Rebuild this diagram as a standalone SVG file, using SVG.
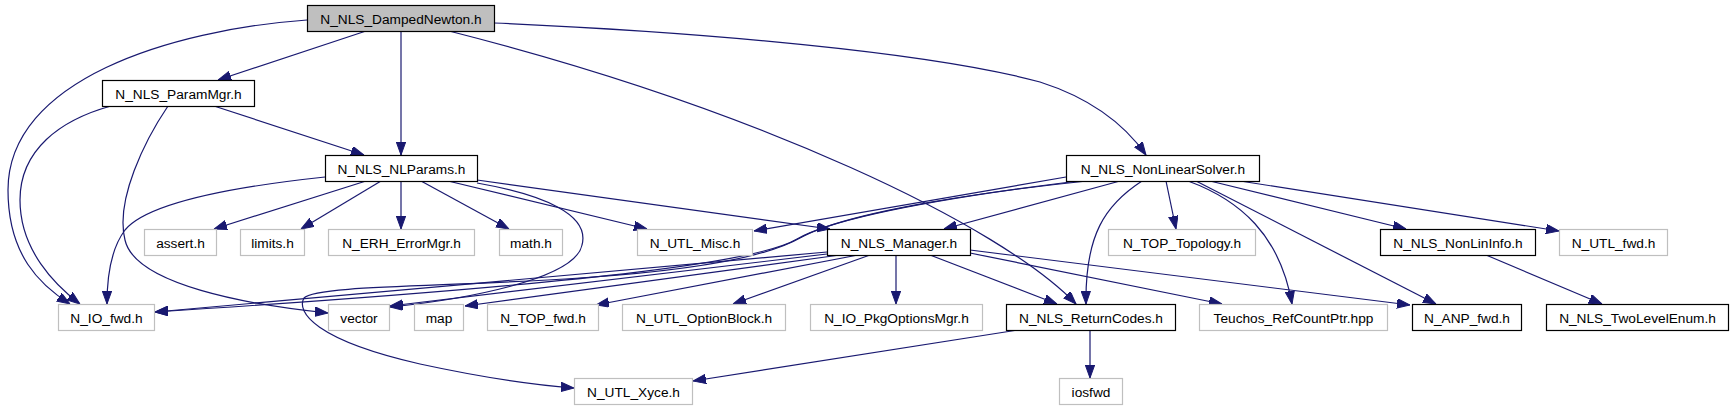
<svg xmlns="http://www.w3.org/2000/svg" width="1735" height="411" viewBox="0 0 1735 411">
<defs>
<style>
.n rect{fill:#fff;stroke:#000;stroke-width:1.2}
.g rect{fill:#fff;stroke:#bfbfbf;stroke-width:1.2}
.root rect{fill:#bfbfbf;stroke:#000;stroke-width:1.2}
text{font-family:"Liberation Sans",Arial,sans-serif;font-size:13.7px;text-anchor:middle;fill:#000}
#edges path{fill:none;stroke:#191970;stroke-width:1.2;marker-end:url(#ah)}
</style>
<marker id="ah" markerUnits="userSpaceOnUse" markerWidth="13" markerHeight="10" refX="13" refY="4.7" orient="auto">
<path d="M0,0 L13,4.7 L0,9.4 z" fill="#191970" stroke="#191970" stroke-width="1"/>
</marker>
</defs>
<rect width="1735" height="411" fill="#fff"/>
<g id="edges">
<path d="M307,20 C170,30 8,80 8,190 C8,255 40,285 70,304"/>
<path d="M366,31 L218,80"/>
<path d="M401,31 L401,155"/>
<path d="M449,31 C760,110 1000,225 1076,304"/>
<path d="M494,23 C700,32 930,52 1040,82 C1090,98 1125,125 1146,155"/>
<path d="M111,106 C60,120 20,150 20,200 C20,250 55,285 80,304"/>
<path d="M168,106 C145,140 115,200 125,240 C135,285 250,305 328,313"/>
<path d="M214,106 L364,155"/>
<path d="M325,177 C250,185 150,200 125,230 C110,250 107,280 107,304"/>
<path d="M366,181 L214,229"/>
<path d="M381,181 L301,229"/>
<path d="M401,181 L401,229"/>
<path d="M421,181 L509,229"/>
<path d="M448,181 L647,229"/>
<path d="M477,180 L830,229"/>
<path d="M477,183 C545,195 590,215 582,245 C575,280 460,300 390,307"/>
<path d="M1066,177 L754,231"/>
<path d="M1087,181 C1000,190 850,210 800,238 C770,255 700,270 580,278 C450,287 315,285 304,298 C296,312 315,340 420,364 C480,377 535,385 574,388"/>
<path d="M1078,181 C990,192 845,212 797,239 C762,260 620,282 155,312"/>
<path d="M1120,181 L944,229"/>
<path d="M1142,181 C1105,205 1085,235 1086,304"/>
<path d="M1166,181 L1176,229"/>
<path d="M1188,181 C1240,200 1280,235 1292,304"/>
<path d="M1196,181 L1436,304"/>
<path d="M1210,181 L1406,229"/>
<path d="M1240,181 L1559,231"/>
<path d="M827,252 L155,312"/>
<path d="M827,254 L390,306"/>
<path d="M840,255 L465,306"/>
<path d="M858,255 L596,305"/>
<path d="M870,255 L733,304"/>
<path d="M896,255 L896,304"/>
<path d="M930,255 L1057,304"/>
<path d="M970,253 L1222,304"/>
<path d="M970,250 L1410,305"/>
<path d="M1486,255 L1602,304"/>
<path d="M1090,330 L1090,378"/>
<path d="M1018,330 L693,381"/>
</g>
<g id="n_dampednewton" class="root"><rect x="307.5" y="5.5" width="187" height="26"/><text x="401" y="23.5">N_NLS_DampedNewton.h</text></g>
<g id="n_parammgr" class="n"><rect x="102.5" y="80.5" width="152" height="26"/><text x="178.5" y="98.5">N_NLS_ParamMgr.h</text></g>
<g id="n_nlparams" class="n"><rect x="325.5" y="155.5" width="152" height="26"/><text x="401.5" y="173.5">N_NLS_NLParams.h</text></g>
<g id="n_nonlinearsolver" class="n"><rect x="1066.5" y="155.5" width="193" height="26"/><text x="1163" y="173.5">N_NLS_NonLinearSolver.h</text></g>
<g id="n_assert" class="g"><rect x="144.5" y="229.5" width="72" height="26"/><text x="180.5" y="247.5">assert.h</text></g>
<g id="n_limits" class="g"><rect x="240.5" y="229.5" width="64" height="26"/><text x="272.5" y="247.5">limits.h</text></g>
<g id="n_erh" class="g"><rect x="328.5" y="229.5" width="146" height="26"/><text x="401.5" y="247.5">N_ERH_ErrorMgr.h</text></g>
<g id="n_math" class="g"><rect x="499.5" y="229.5" width="63" height="26"/><text x="531" y="247.5">math.h</text></g>
<g id="n_utlmisc" class="g"><rect x="637.5" y="229.5" width="115" height="26"/><text x="695" y="247.5">N_UTL_Misc.h</text></g>
<g id="n_manager" class="n"><rect x="827.5" y="229.5" width="143" height="26"/><text x="899" y="247.5">N_NLS_Manager.h</text></g>
<g id="n_topology" class="g"><rect x="1108.5" y="229.5" width="147" height="26"/><text x="1182" y="247.5">N_TOP_Topology.h</text></g>
<g id="n_nonlininfo" class="n"><rect x="1380.5" y="229.5" width="155" height="26"/><text x="1458" y="247.5">N_NLS_NonLinInfo.h</text></g>
<g id="n_utlfwd" class="g"><rect x="1559.5" y="229.5" width="108" height="26"/><text x="1613.5" y="247.5">N_UTL_fwd.h</text></g>
<g id="n_iofwd" class="g"><rect x="58.5" y="304.5" width="96" height="26"/><text x="106.5" y="322.5">N_IO_fwd.h</text></g>
<g id="n_vector" class="g"><rect x="328.5" y="304.5" width="61" height="26"/><text x="359" y="322.5">vector</text></g>
<g id="n_map" class="g"><rect x="414.5" y="304.5" width="49" height="26"/><text x="439" y="322.5">map</text></g>
<g id="n_topfwd" class="g"><rect x="487.5" y="304.5" width="111" height="26"/><text x="543" y="322.5">N_TOP_fwd.h</text></g>
<g id="n_optionblock" class="g"><rect x="622.5" y="304.5" width="163" height="26"/><text x="704" y="322.5">N_UTL_OptionBlock.h</text></g>
<g id="n_pkgoptionsmgr" class="g"><rect x="810.5" y="304.5" width="172" height="26"/><text x="896.5" y="322.5">N_IO_PkgOptionsMgr.h</text></g>
<g id="n_returncodes" class="n"><rect x="1006.5" y="304.5" width="169" height="26"/><text x="1091" y="322.5">N_NLS_ReturnCodes.h</text></g>
<g id="n_teuchos" class="g"><rect x="1199.5" y="304.5" width="188" height="26"/><text x="1293.5" y="322.5">Teuchos_RefCountPtr.hpp</text></g>
<g id="n_anpfwd" class="n"><rect x="1412.5" y="304.5" width="109" height="26"/><text x="1467" y="322.5">N_ANP_fwd.h</text></g>
<g id="n_twolevelenum" class="n"><rect x="1546.5" y="304.5" width="182" height="26"/><text x="1637.5" y="322.5">N_NLS_TwoLevelEnum.h</text></g>
<g id="n_utlxyce" class="g"><rect x="574.5" y="378.5" width="118" height="26"/><text x="633.5" y="396.5">N_UTL_Xyce.h</text></g>
<g id="n_iosfwd" class="g"><rect x="1059.5" y="378.5" width="63" height="26"/><text x="1091" y="396.5">iosfwd</text></g>
</svg>
